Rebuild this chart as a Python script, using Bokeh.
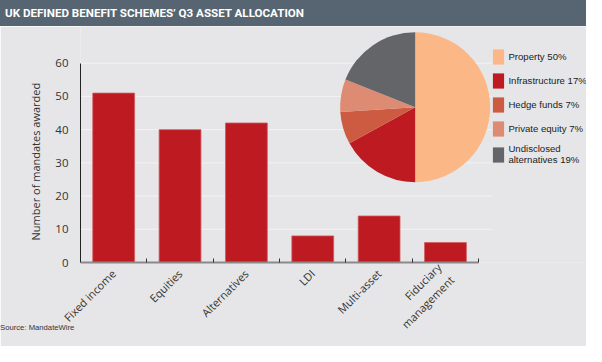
import numpy as np
from bokeh.plotting import figure
from bokeh.layouts import column
from bokeh.models import (Range1d, LinearAxis, FixedTicker, Legend, LegendItem,
                          Div, ColumnDataSource)
from bokeh.embed import file_html
from bokeh.resources import INLINE

# ---------------- data ----------------
title_text = "UK DEFINED BENEFIT SCHEMES\u2019 Q3 ASSET ALLOCATION"
categories = ["Fixed income", "Equities", "Alternatives", "LDI", "Multi-asset",
              "Fiduciary\nmanagement"]
mandates = [51, 40, 42, 8, 14, 6]
y_ticks = [0, 10, 20, 30, 40, 50, 60]
y_label = "Number of mandates awarded"
pie_labels = ["Property", "Infrastructure", "Hedge funds", "Private equity",
              "Undisclosed\nalternatives"]
pie_shares = [50, 17, 7, 7, 19]
source_text = "Source: MandateWire"

# ---------------- style / layout ----------------
W, H = 586, 346                 # fits the 602x362 window with its 8px margin
SX, SY = W / 602.0, H / 362.0   # reference-pixel -> page-pixel
TOP_H = round(27 * SY)
MAIN_H = H - TOP_H
BG = "#e6e6e8"
DARK = "#566571"
BAR = "#be1a22"
pie_colors = ["#fbb886", "#be1a22", "#cd5b41", "#de8b74", "#636569"]
AX_FONT = "Open Sans"

FRAME_L = round(82 * SX)
FRAME_B = round(275 * SY) - TOP_H          # frame bottom in main-figure px
PX_PER_CAT = 68.17 * SX
PX_PER_UNIT = 3.49 * SY
FRAME_W = W - FRAME_L
x_end = FRAME_W / PX_PER_CAT
y_end = FRAME_B / PX_PER_UNIT
GRID_END = (505 * SX - FRAME_L) / PX_PER_CAT
SRC_H = 12
SRC_TOP = round(339 * SY - SRC_H / 2)      # page px of the source line's top

# ---------------- title bar ----------------
title_div = Div(
    text=(f'<div style="font-family: Roboto, sans-serif; font-weight: bold; '
          f'font-size: 11.6px; color: #ffffff; line-height: {TOP_H}px; '
          f'padding-left: 5px; white-space: nowrap;">{title_text}</div>'),
    width=W, height=TOP_H, margin=0,
    styles={"background-color": DARK, "overflow": "hidden"})

# ---------------- main chart ----------------
p = figure(width=W, height=MAIN_H, x_range=Range1d(0, x_end), y_range=Range1d(0, y_end),
           output_backend="svg", toolbar_location=None, margin=0,
           min_border_left=FRAME_L, min_border_right=0,
           min_border_top=0, min_border_bottom=MAIN_H - FRAME_B,
           x_axis_type=None, y_axis_type=None,
           background_fill_color=BG, border_fill_color=BG, outline_line_color=None)
p.extra_x_ranges = {"px": Range1d(0, FRAME_W)}
p.extra_y_ranges = {"px": Range1d(0, FRAME_B)}

# horizontal grid lines at the y ticks
p.segment(x0=0, x1=GRID_END, y0=y_ticks[1:], y1=y_ticks[1:],
          line_color="#f3f3f4", line_width=1)

centers = [i + 0.5 for i in range(len(categories))]
p.vbar(x=centers, top=mandates, width=0.63, bottom=0, fill_color=BAR,
       line_color="#cf5a5f", line_width=0.8)

xaxis = LinearAxis(bounds=(0, len(categories)),
                   ticker=FixedTicker(ticks=centers,
                                      minor_ticks=list(range(1, len(categories) + 1))),
                   major_label_overrides={c: lab for c, lab in zip(centers, categories)},
                   major_tick_line_color=None, minor_tick_in=4, minor_tick_out=0,
                   minor_tick_line_color="#333333", axis_line_color="#8a8a8a",
                   axis_line_width=2, major_label_orientation=np.pi / 4,
                   major_label_standoff=3, major_label_text_font=AX_FONT,
                   major_label_text_font_size="11px", major_label_text_color="#333333")
p.add_layout(xaxis, "below")

yaxis = LinearAxis(bounds=(0, 60), ticker=FixedTicker(ticks=y_ticks),
                   major_tick_line_color=None, minor_tick_line_color=None,
                   axis_line_color="#222222", axis_line_width=1,
                   major_label_standoff=6, major_label_text_font=AX_FONT,
                   major_label_text_font_size="11.5px", major_label_text_color="#333333",
                   # trailing no-break spaces move the centred label down to the 0-60 span
                   axis_label=y_label + "\u00a0" * 12, axis_label_standoff=9,
                   axis_label_text_font=AX_FONT, axis_label_text_font_size="11px",
                   axis_label_text_font_style="normal", axis_label_text_color="#333333")
p.add_layout(yaxis, "left")

# pie
cum = np.cumsum([0] + pie_shares) / 100.0
src = ColumnDataSource(dict(start=np.pi / 2 - 2 * np.pi * cum[1:],
                            end=np.pi / 2 - 2 * np.pi * cum[:-1],
                            color=pie_colors))
PIE_CX = 426 * SX - FRAME_L
PIE_CY = FRAME_B - (112 * SY - TOP_H)
PIE_R = 75
wr = p.wedge(x=PIE_CX, y=PIE_CY, radius=PIE_R, radius_units="screen",
             start_angle="start", end_angle="end", fill_color="color",
             line_color=None, source=src, x_range_name="px", y_range_name="px")

LEG_X = 507.3 * SX - 1 - 1.4 - FRAME_L
legend = Legend(items=[LegendItem(label=f"{n} {s}%", renderers=[wr], index=i)
                       for i, (n, s) in enumerate(zip(pie_labels, pie_shares))],
                location=(LEG_X, 97), orientation="vertical",
                glyph_width=14, glyph_height=19, label_height=19, label_width=20,
                label_standoff=3, spacing=5, padding=1, margin=0,
                background_fill_alpha=0, border_line_color=None,
                label_text_font="Liberation Sans", label_text_font_size="9.6px",
                label_text_color="#222222")
p.add_layout(legend)

# source line, overlapping the bottom-right corner of the chart
source_div = Div(
    text=(f'<div style="font-family: \'Liberation Sans\', sans-serif; font-size: 7.7px; '
          f'color: #333333; line-height: {SRC_H}px; text-align: right; '
          f'padding-right: {round(W - 590 * SX)}px; white-space: nowrap;">'
          f'{source_text}</div>'),
    width=W, height=SRC_H, margin=(SRC_TOP - H, 0, 0, 0))

layout = column(title_div, p, source_div, spacing=0, margin=0)

open("out.html", "w").write(file_html(layout, INLINE))
